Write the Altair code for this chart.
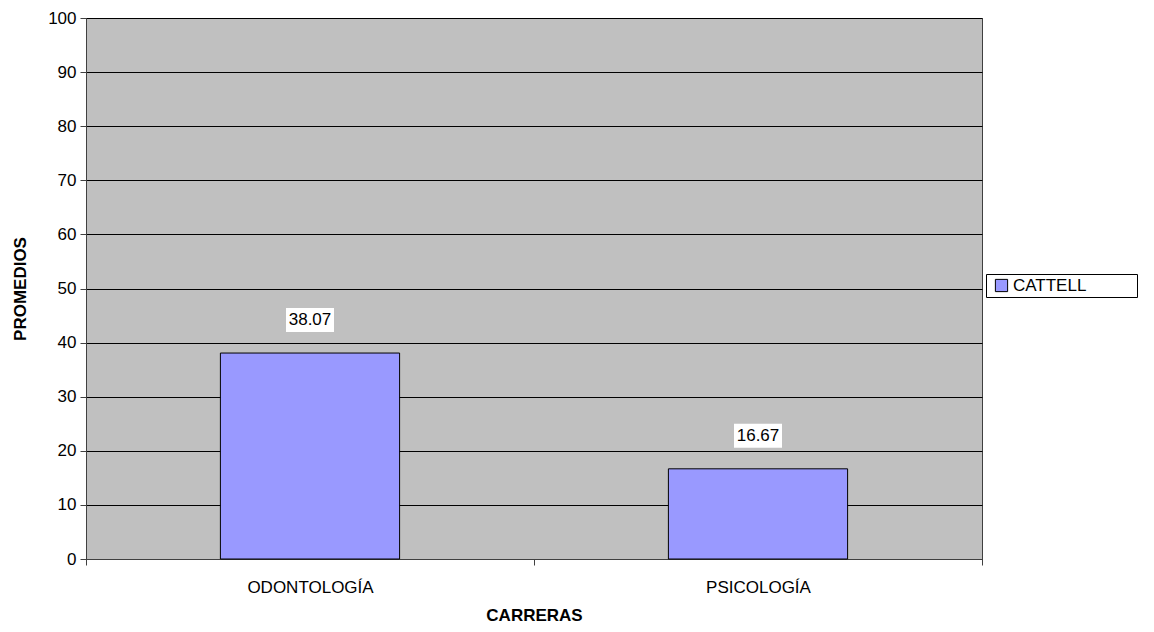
import altair as alt
import pandas as pd

categories = ["ODONTOLOGÍA", "PSICOLOGÍA"]
values = [38.07, 16.67]
series = ["CATTELL", "CATTELL"]

df = pd.DataFrame({"carrera": categories, "valor": values, "serie": series})

FONT = "Liberation Sans"
PAD = "\u00a0" * 10 + "\u200b"

x = alt.X("carrera:N", sort=categories,
          scale=alt.Scale(paddingInner=0, paddingOuter=0),
          axis=alt.Axis(title="CARRERAS", labelAngle=0, tickBand="extent",
                        labelPadding=14, titlePadding=12, tickSize=6,
                        domainColor="#404040", tickColor="#404040"))
y = alt.Y("valor:Q", scale=alt.Scale(domain=[0, 100], nice=False),
          axis=alt.Axis(title="PROMEDIOS", values=list(range(0, 101, 10)),
                        tickSize=6, labelPadding=4, titlePadding=18,
                        grid=True, gridColor="#000000", gridOpacity=1,
                        domainColor="#404040", tickColor="#404040"))

bars = alt.Chart(df).mark_bar(stroke="#000000", strokeWidth=1,
                              width=alt.RelativeBandSize(0.4)).encode(
    x=x, y=y,
    color=alt.Color("serie:N", scale=alt.Scale(range=["#9999FF"]),
                    legend=alt.Legend(title=None, orient="none", legendX=900, legendY=256,
                                      symbolType="square", symbolSize=150,
                                      symbolStrokeColor="#000000", symbolStrokeWidth=1,
                                      labelFontSize=17, labelFont=FONT, labelColor="#000000",
                                      labelExpr="datum.label + '" + PAD + "'",
                                      labelLimit=400,
                                      padding=3, strokeColor="#000000", fillColor="#FFFFFF",
                                      symbolOffset=4, labelOffset=3))
)

boxes = alt.Chart(df).mark_rect(width=48, height=24, color="#FFFFFF",
                                opacity=1, yOffset=-33).encode(
    x=alt.X("carrera:N", sort=categories), y="valor:Q")
labels = alt.Chart(df).mark_text(fontSize=17, font=FONT, color="#000000",
                                 yOffset=-33, baseline="middle").encode(
    x=alt.X("carrera:N", sort=categories), y="valor:Q",
    text=alt.Text("valor:Q", format=".2f"))

chart = alt.layer(bars, boxes, labels).properties(
    width=896, height=541,
    autosize=alt.AutoSizeParams(type="none"),
    padding={"left": 78, "top": 10, "right": 164, "bottom": 64},
    background="#FFFFFF",
).configure_view(fill="#C0C0C0", stroke="#404040", strokeWidth=1).configure_axis(
    labelFont=FONT, labelFontSize=17, labelColor="#000000",
    titleFont=FONT, titleFontSize=17, titleFontWeight="bold", titleColor="#000000"
)

chart.save("out.html", embed_options={"renderer": "svg", "actions": False})
